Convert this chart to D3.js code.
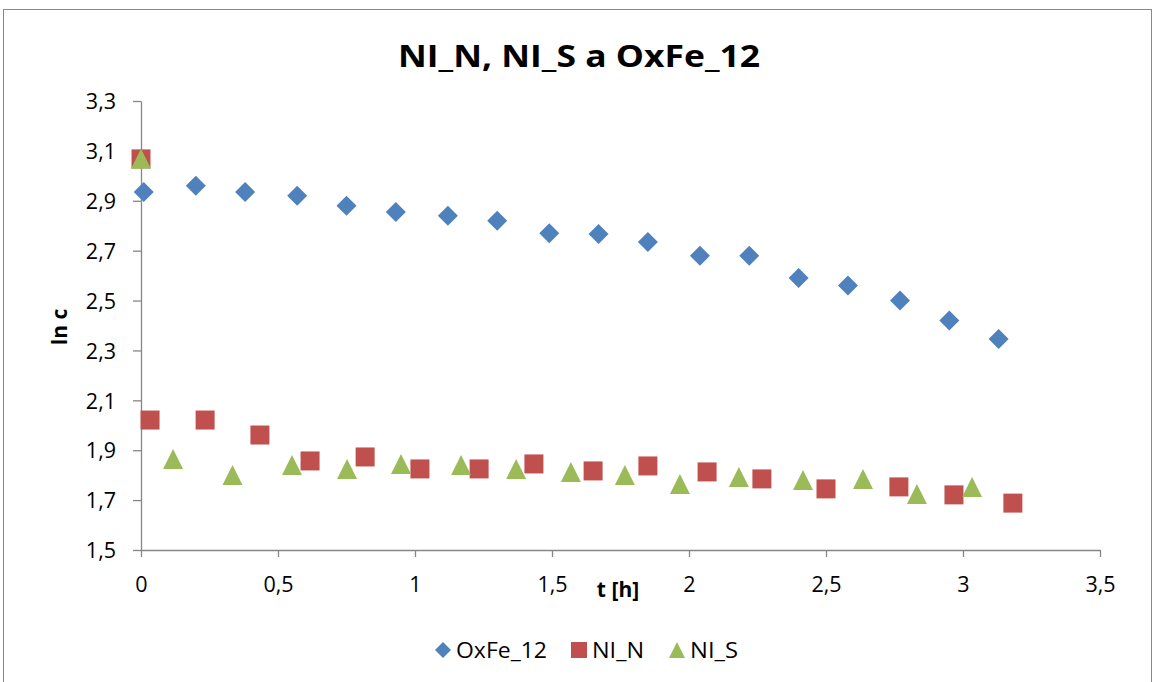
<!DOCTYPE html>
<html>
<head>
<meta charset="utf-8">
<script src="https://cdn.jsdelivr.net/npm/d3@7"></script>
<style>
  body { margin: 0; background: #fff; }
  svg { display: block; }
</style>
</head>
<body>
<div id="chart"></div>
<script>
var width = 1156;
var height = 682;

// Data
var oxT = [0.01, 0.2, 0.38, 0.57, 0.75, 0.93, 1.12, 1.3, 1.49, 1.67, 1.85, 2.04, 2.22, 2.4, 2.58, 2.77, 2.95, 3.13];
var oxY = [2.935, 2.96, 2.935, 2.92, 2.88, 2.855, 2.84, 2.82, 2.77, 2.767, 2.735, 2.68, 2.68, 2.59, 2.56, 2.5, 2.42, 2.346];

var nT = [0, 0.033, 0.234, 0.434, 0.617, 0.818, 1.018, 1.234, 1.434, 1.65, 1.85, 2.066, 2.266, 2.5, 2.766, 2.967, 3.182];
var nY = [3.068, 2.021, 2.021, 1.961, 1.857, 1.873, 1.825, 1.825, 1.845, 1.817, 1.837, 1.813, 1.785, 1.745, 1.753, 1.721, 1.688];

var sT = [0, 0.117, 0.334, 0.551, 0.752, 0.949, 1.168, 1.369, 1.569, 1.766, 1.967, 2.182, 2.416, 2.635, 2.832, 3.033];
var sY = [3.068, 1.865, 1.801, 1.841, 1.825, 1.845, 1.841, 1.825, 1.813, 1.801, 1.765, 1.793, 1.781, 1.785, 1.725, 1.753];

var seriesNames = ["OxFe_12", "NI_N", "NI_S"];
var xTicks = [0, 0.5, 1, 1.5, 2, 2.5, 3, 3.5];
var yTicks = [1.5, 1.7, 1.9, 2.1, 2.3, 2.5, 2.7, 2.9, 3.1, 3.3];

var colors = { "OxFe_12": "#4F81BD", "NI_N": "#C0504D", "NI_S": "#9BBB59" };
var font = "'Open Sans', sans-serif";

// comma as decimal separator
function fmt(v) {
    return String(+v.toFixed(1)).replace(".", ",");
}

// custom marker shapes
var diamond = {
    draw: function(ctx, r) {
        ctx.moveTo(0, -r); ctx.lineTo(r, 0); ctx.lineTo(0, r); ctx.lineTo(-r, 0); ctx.closePath();
    }
};
var square = {
    draw: function(ctx, r) {
        ctx.rect(-r, -r, 2 * r, 2 * r);
    }
};
var triangle = {
    draw: function(ctx, r) {
        ctx.moveTo(0, -r); ctx.lineTo(r, r); ctx.lineTo(-r, r); ctx.closePath();
    }
};
var shapes = { "OxFe_12": diamond, "NI_N": square, "NI_S": triangle };

var svg = d3.select("#chart")
    .append("svg")
    .attr("width", width)
    .attr("height", height);

// chart border
svg.append("rect")
    .attr("x", 3.5)
    .attr("y", 9.5)
    .attr("width", 1148)
    .attr("height", 690)
    .attr("fill", "#fff")
    .attr("stroke", "#888")
    .attr("stroke-width", 1);

var x = d3.scaleLinear().domain([0, 3.5]).range([141, 1100]);
var y = d3.scaleLinear().domain([1.5, 3.3]).range([550, 101]);

// X axis
var xAxis = svg.append("g")
    .attr("transform", "translate(0,550)")
    .call(d3.axisBottom(x).tickValues(xTicks).tickFormat(fmt).tickSizeInner(7).tickSizeOuter(0).tickPadding(20));
// Y axis
var yAxis = svg.append("g")
    .attr("transform", "translate(141,0)")
    .call(d3.axisLeft(y).tickValues(yTicks).tickFormat(fmt).tickSizeInner(8).tickSizeOuter(0).tickPadding(17));

[xAxis, yAxis].forEach(function(ax) {
    ax.select(".domain").attr("stroke", "#868686").attr("stroke-width", 1.3);
    ax.selectAll(".tick line").attr("stroke", "#868686").attr("stroke-width", 1.3);
    ax.selectAll(".tick text")
        .attr("fill", "#000")
        .style("font-family", font)
        .style("font-size", "21.5px");
});
yAxis.selectAll(".tick text").attr("dy", "0.36em");

// series
var series = [
    { name: "OxFe_12", t: oxT, v: oxY, r: 10 },
    { name: "NI_N", t: nT, v: nY, r: 9.5 },
    { name: "NI_S", t: sT, v: sY, r: 10 }
];

series.forEach(function(s) {
    var pts = s.t.map(function(t, i) { return [t, s.v[i]]; });
    svg.append("g")
        .selectAll("path")
        .data(pts)
        .enter()
        .append("path")
        .attr("transform", function(d) { return "translate(" + x(d[0]) + "," + y(d[1]) + ")"; })
        .attr("d", d3.symbol().type(shapes[s.name]).size(s.r))
        .attr("fill", colors[s.name]);
});

// title
svg.append("text")
    .attr("x", 579)
    .attr("y", 67)
    .attr("text-anchor", "middle")
    .attr("textLength", 362)
    .attr("lengthAdjust", "spacingAndGlyphs")
    .style("font-family", font)
    .style("font-weight", "bold")
    .style("font-size", "31px")
    .text("NI_N, NI_S a OxFe_12");

// axis titles
svg.append("text")
    .attr("x", 618)
    .attr("y", 597)
    .attr("text-anchor", "middle")
    .style("font-family", font)
    .style("font-weight", "bold")
    .style("font-size", "21px")
    .text("t [h]");

svg.append("text")
    .attr("transform", "translate(67,327) rotate(-90)")
    .attr("text-anchor", "middle")
    .style("font-family", font)
    .style("font-weight", "bold")
    .style("font-size", "21px")
    .text("ln c");

// legend
var legendX = [443, 579, 677];
var legendW = [91, 52, 48];
var legend = svg.append("g");
seriesNames.forEach(function(name, i) {
    legend.append("path")
        .attr("transform", "translate(" + legendX[i] + ",650)")
        .attr("d", d3.symbol().type(shapes[name]).size(8))
        .attr("fill", colors[name]);
    legend.append("text")
        .attr("x", legendX[i] + 13)
        .attr("y", 658)
        .attr("textLength", legendW[i])
        .attr("lengthAdjust", "spacingAndGlyphs")
        .style("font-family", font)
        .style("font-size", "22px")
        .attr("fill", "#000")
        .text(name);
});
</script>
</body>
</html>
